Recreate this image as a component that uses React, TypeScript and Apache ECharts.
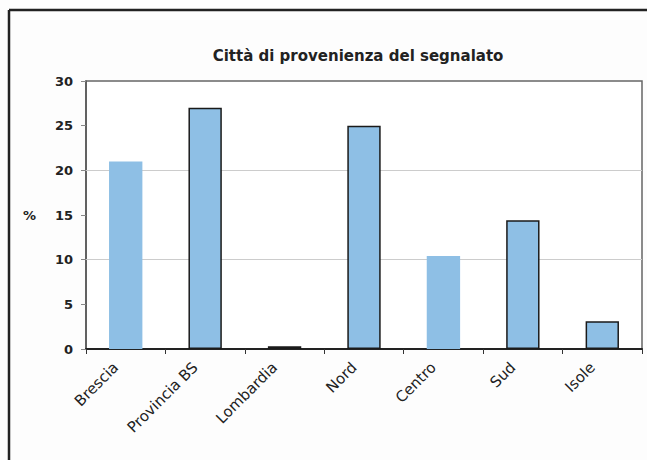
import React, { useEffect, useRef } from "react";
import * as echarts from "echarts";

const categories = ["Brescia", "Provincia BS", "Lombardia", "Nord", "Centro", "Sud", "Isole"];
const values = [21, 27, 0.3, 25, 10.4, 14.4, 3.1];
const bordered = [false, true, true, true, false, true, true];
const gridValues = [10, 20];
const title = "Città di provenienza del segnalato";

const FONT = "DejaVu Sans, Liberation Sans, Arial, sans-serif";

export default function App() {
  const ref = useRef<HTMLDivElement>(null);
  useEffect(() => {
    if (!ref.current) return;
    const chart = echarts.init(ref.current, undefined, { renderer: "svg" });
    chart.setOption({
      animation: false,
      backgroundColor: "#fdfdfd",
      textStyle: { fontFamily: FONT },
      title: {
        text: title,
        left: 353,
        top: 43,
        textAlign: "center",
        textStyle: { fontSize: 15, fontWeight: "bold", color: "#222", fontFamily: FONT },
      },
      grid: {
        left: 86,
        right: 5,
        top: 81,
        bottom: 111,
        show: true,
        borderColor: "#666",
        borderWidth: 1.5,
        backgroundColor: "#ffffff",
      },
      xAxis: {
        type: "category",
        data: categories,
        axisLine: { lineStyle: { color: "#222", width: 2 } },
        axisTick: { show: true, length: 5, lineStyle: { color: "#333" } },
        axisLabel: {
          rotate: 45,
          margin: 6,
          padding: [0, 14, 0, 0],
          fontSize: 15,
          color: "#222",
          fontFamily: FONT,
        },
      },
      yAxis: {
        type: "value",
        min: 0,
        max: 30,
        interval: 5,
        name: "%",
        nameLocation: "middle",
        nameRotate: 0,
        nameGap: 50,
        nameTextStyle: { fontSize: 13, fontWeight: "bold", color: "#222", fontFamily: FONT },
        axisLine: { show: true, lineStyle: { color: "#555", width: 1.5 } },
        axisTick: { show: true, length: 5, lineStyle: { color: "#888" } },
        splitLine: { show: false },
        axisLabel: { margin: 13, fontSize: 13, fontWeight: "bold", color: "#222", fontFamily: FONT },
      },
      series: [
        {
          type: "bar",
          barCategoryGap: "58%",
          data: values.map((v, i) => ({
            value: v,
            itemStyle: {
              color: "#8EBFE5",
              borderColor: bordered[i] ? "#1a1a1a" : "#8EBFE5",
              borderWidth: bordered[i] ? 1.5 : 0,
            },
          })),
          markLine: {
            silent: true,
            symbol: "none",
            label: { show: false },
            lineStyle: { color: "#cccccc", type: "solid", width: 1 },
            data: gridValues.map((g) => ({ yAxis: g })),
            z: 1,
          },
          z: 3,
        },
      ],
      graphic: [
        { type: "line", shape: { x1: 9, y1: 10, x2: 9, y2: 460 }, style: { stroke: "#222", lineWidth: 2.5 } },
        { type: "line", shape: { x1: 9, y1: 10, x2: 647, y2: 10 }, style: { stroke: "#222", lineWidth: 2.5 } },
      ],
    });
    return () => chart.dispose();
  }, []);
  return <div ref={ref} style={{ position: "fixed", left: 0, top: 0, width: 647, height: 460 }} />;
}
